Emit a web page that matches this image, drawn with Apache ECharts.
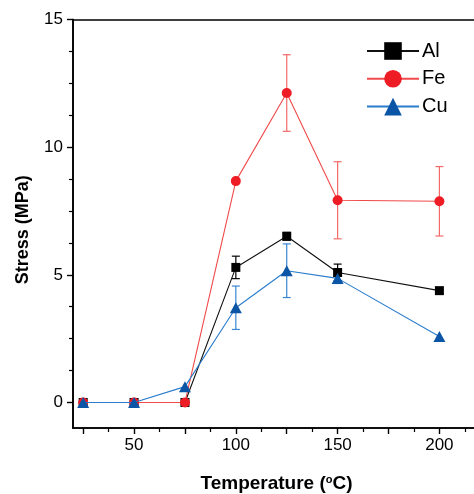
<!DOCTYPE html>
<html><head><meta charset="utf-8">
<script src="https://cdn.jsdelivr.net/npm/echarts@6/dist/echarts.min.js"></script>
<style>html,body{margin:0;padding:0;background:#fff}#c{width:474px;height:494px}</style>
</head><body><div id="c"></div>
<script>
var temps = [25, 50, 75, 100, 125, 150, 200];
var alVals = [0, 0, 0, 5.29, 6.51, 5.09, 4.38];
var alErr  = [0, 0, 0, 0.44, 0.15, 0.33, 0];
var feVals = [0, 0, 0, 8.67, 12.12, 7.92, 7.88];
var feErr  = [0, 0, 0, 0, 1.5, 1.51, 1.36];
var cuVals = [0, 0, 0.62, 3.71, 5.16, 4.86, 2.58];
var cuErr  = [0, 0, 0, 0.85, 1.05, 0.2, 0];
var xMajorTicks = [25, 50, 75, 100, 125, 150, 175, 200];
var xMinorTicks = [37.5, 62.5, 87.5, 112.5, 137.5, 162.5, 187.5, 212.5];
var xLabels = [50, 100, 150, 200];
var yMajorTicks = [0, 5, 10, 15];
var yMinorTicks = [1.25, 2.5, 3.75, 6.25, 7.5, 8.75, 11.25, 12.5, 13.75];

var FONT = 'Liberation Sans, Arial, sans-serif';
function pts(v){ return temps.map(function(t,i){ return [t, v[i]]; }); }
function errData(v,e){ return temps.map(function(t,i){ return [t, v[i]-e[i], v[i]+e[i]]; }).filter(function(d,i){return e[i]>0;}); }
function errSeries(v,e,color){
  return {
    type:'custom', z:1, silent:true, data: errData(v,e),
    renderItem: function(params, api){
      var lo = api.coord([api.value(0), api.value(1)]);
      var hi = api.coord([api.value(0), api.value(2)]);
      var w = 4;
      var s = {stroke: color, lineWidth: 1.2};
      return {type:'group', children:[
        {type:'line', shape:{x1:lo[0],y1:lo[1],x2:hi[0],y2:hi[1]}, style:s},
        {type:'line', shape:{x1:lo[0]-w,y1:lo[1],x2:lo[0]+w,y2:lo[1]}, style:s},
        {type:'line', shape:{x1:hi[0]-w,y1:hi[1],x2:hi[0]+w,y2:hi[1]}, style:s}
      ]};
    }
  };
}
var axisLineStyle = {color:'#000', width:1.6};
function xAxisBase(extra){
  var a = {type:'value', min:20, max:217, position:'bottom',
    axisLine:{show:true, onZero:false, lineStyle:axisLineStyle},
    splitLine:{show:false}, axisLabel:{show:false}, axisTick:{show:false}};
  for (var k in extra) a[k]=extra[k];
  return a;
}
function yAxisBase(extra){
  var a = {type:'value', min:-1, max:15, position:'left',
    axisLine:{show:true, onZero:false, lineStyle:axisLineStyle},
    splitLine:{show:false}, axisLabel:{show:false}, axisTick:{show:false}};
  for (var k in extra) a[k]=extra[k];
  return a;
}
var chart = echarts.init(document.getElementById('c'), null, {renderer:'canvas'});
chart.setOption({
  animation:false,
  backgroundColor:'#fff',
  grid:{left:73, top:19.5, right:0, bottom:66, containLabel:false, outerBoundsMode:'none'},
  xAxis:[
    xAxisBase({
      axisTick:{show:true, inside:false, length:6, lineStyle:{color:'#000', width:1.4}, customValues:xMajorTicks},
      axisLabel:{show:true, margin:9, color:'#000', fontSize:17, fontFamily:FONT, customValues:xLabels},
      name:'{a|Temperature (}{s|o}{a|C)}', nameLocation:'middle', nameGap:46,
      nameTextStyle:{rich:{
        a:{fontSize:19, fontWeight:'bold', fontFamily:FONT, color:'#000'},
        s:{fontSize:11, fontWeight:'bold', fontFamily:FONT, color:'#000', verticalAlign:'top', padding:[0,0,8,0]}
      }, padding:[0,0,0,6]}
    }),
    xAxisBase({
      axisTick:{show:true, inside:false, length:4, lineStyle:{color:'#000', width:1.2}, customValues:xMinorTicks}
    }),
    xAxisBase({position:'top'})
  ],
  yAxis:[
    yAxisBase({
      axisTick:{show:true, inside:false, length:6, lineStyle:{color:'#000', width:1.4}, customValues:yMajorTicks},
      axisLabel:{show:true, margin:10, color:'#000', fontSize:17, fontFamily:FONT, customValues:yMajorTicks},
      name:'Stress (MPa)', nameLocation:'middle', nameGap:41, nameRotate:90,
      nameTextStyle:{fontSize:18, fontWeight:'bold', fontFamily:FONT, color:'#000', padding:[0,0,0,-12]}
    }),
    yAxisBase({
      axisTick:{show:true, inside:false, length:4, lineStyle:{color:'#000', width:1.2}, customValues:yMinorTicks}
    })
  ],
  legend:{
    orient:'vertical', left:361, top:36, itemWidth:52, itemHeight:22, itemGap:7.8,
    textStyle:{fontSize:20, fontFamily:FONT, color:'#000', padding:[0,0,0,-2]},
    data:['Al','Fe','Cu']
  },
  series:[
    errSeries(alVals, alErr, '#000'),
    errSeries(feVals, feErr, '#f26a6a'),
    errSeries(cuVals, cuErr, '#3a86d0'),
    {name:'Al', type:'line', z:2, data:pts(alVals), symbol:'rect', symbolSize:9,
      itemStyle:{color:'#000'}, lineStyle:{color:'#111', width:1.1}},
    {name:'Fe', type:'line', z:3, data:pts(feVals), symbol:'circle', symbolSize:10,
      itemStyle:{color:'#ee1c25'}, lineStyle:{color:'#f04a4a', width:1.1}},
    {name:'Cu', type:'line', z:4, data:pts(cuVals), symbol:'triangle', symbolSize:[12,11],
      itemStyle:{color:'#0a55a5'}, lineStyle:{color:'#2a7ccc', width:1.1}}
  ]
});
</script>
</body></html>
